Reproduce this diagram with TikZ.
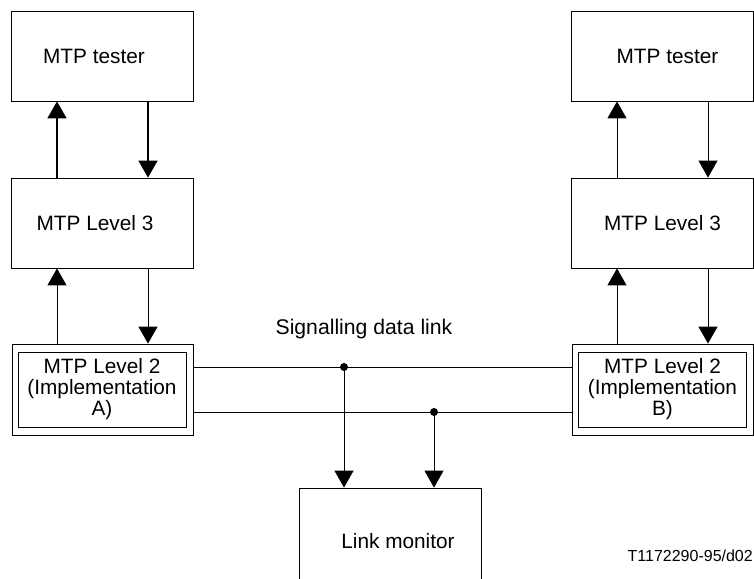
\documentclass[tikz,border=0pt]{standalone}
\usepackage{fontspec}
\setmainfont{Liberation Sans}
\usetikzlibrary{arrows.meta}
\begin{document}
\begin{tikzpicture}[x=1pt,y=-1pt,
  box/.style={draw, line width=0.8pt, minimum width=182pt, minimum height=90pt,
    inner sep=0pt, font=\fontsize{20.8}{21.5}\selectfont, align=center},
  outerbox/.style={draw, line width=0.8pt, minimum width=181pt, minimum height=91pt, inner sep=0pt},
  innerbox/.style={draw, line width=0.8pt, minimum width=168pt, minimum height=75pt,
    inner sep=0pt, font=\fontsize{20.8}{21}\selectfont, align=center},
  arr/.style={line width=0.9pt, -{Triangle[width=19pt,length=17pt]}},
  arrthick/.style={line width=1.8pt, -{Triangle[width=19pt,length=17pt]}},
  link/.style={line width=0.8pt},
  dot/.style={circle, fill, inner sep=0pt, minimum size=8pt},
  lbl/.style={font=\fontsize{21.2}{22}\selectfont, inner sep=0pt}]
\useasboundingbox (0,0) rectangle (754,578);
\clip (0,0) rectangle (754,578);
\fill[white] (0,0) rectangle (754,578);

% left stack
\node[box] (testA) at (102,56) {\hspace*{-16pt}MTP tester};
\node[box] (l3A) at (102,223) {\hspace*{-14pt}MTP Level 3};
\node[outerbox] (l2A) at (102.5,389.5) {};
\node[innerbox] (l2Ain) at (102,389.5) {MTP Level 2\\(Implementation\\A)};

% right stack
\node[box] (testB) at (662.5,56) {\hspace*{10pt}MTP tester};
\node[box] (l3B) at (662.5,223) {MTP Level 3};
\node[outerbox] (l2B) at (662.5,389.5) {};
\node[innerbox] (l2Bin) at (662.5,389.5) {MTP Level 2\\(Implementation\\B)};

% monitor, open towards the lower edge
\node[box, minimum width=182pt, minimum height=106pt] (mon) at (390,541) {\hspace{16pt}Link monitor};

% column positions of the vertical connectors
\coordinate (xAup) at (57,0);
\coordinate (xAdn) at (148,0);
\coordinate (xBup) at (617,0);
\coordinate (xBdn) at (708,0);
\coordinate (yUp) at (0,367);
\coordinate (yLo) at (0,412);

% tester <-> level 3
\draw[arrthick] (l3A.north -| xAup) -- (testA.south -| xAup);
\draw[arrthick] (testA.south -| xAdn) -- (l3A.north -| xAdn);
\draw[arr] (l3B.north -| xBup) -- (testB.south -| xBup);
\draw[arr] (testB.south -| xBdn) -- (l3B.north -| xBdn);

% level 3 <-> level 2
\draw[arr] (l2A.north -| xAup) -- (l3A.south -| xAup);
\draw[arr] (l3A.south -| xAdn) -- (l2A.north -| xAdn);
\draw[arr] (l2B.north -| xBup) -- (l3B.south -| xBup);
\draw[arr] (l3B.south -| xBdn) -- (l2B.north -| xBdn);

% signalling data link
\draw[link] (l2A.east |- yUp) -- (l2B.west |- yUp);
\draw[link] (l2A.east |- yLo) -- (l2B.west |- yLo);
\node[lbl] (sdl) at (364,329) {Signalling data link};

\node[dot] (tapUp) at (344,367) {};
\node[dot] (tapLo) at (434,412) {};
\draw[arr] (tapUp.center) -- (mon.north -| tapUp);
\draw[arr] (tapLo.center) -- (mon.north -| tapLo);

\node[font=\fontsize{16}{18}\selectfont, anchor=east, inner sep=0pt] (ref) at (753,556) {T1172290-95/d02};
\end{tikzpicture}
\end{document}
